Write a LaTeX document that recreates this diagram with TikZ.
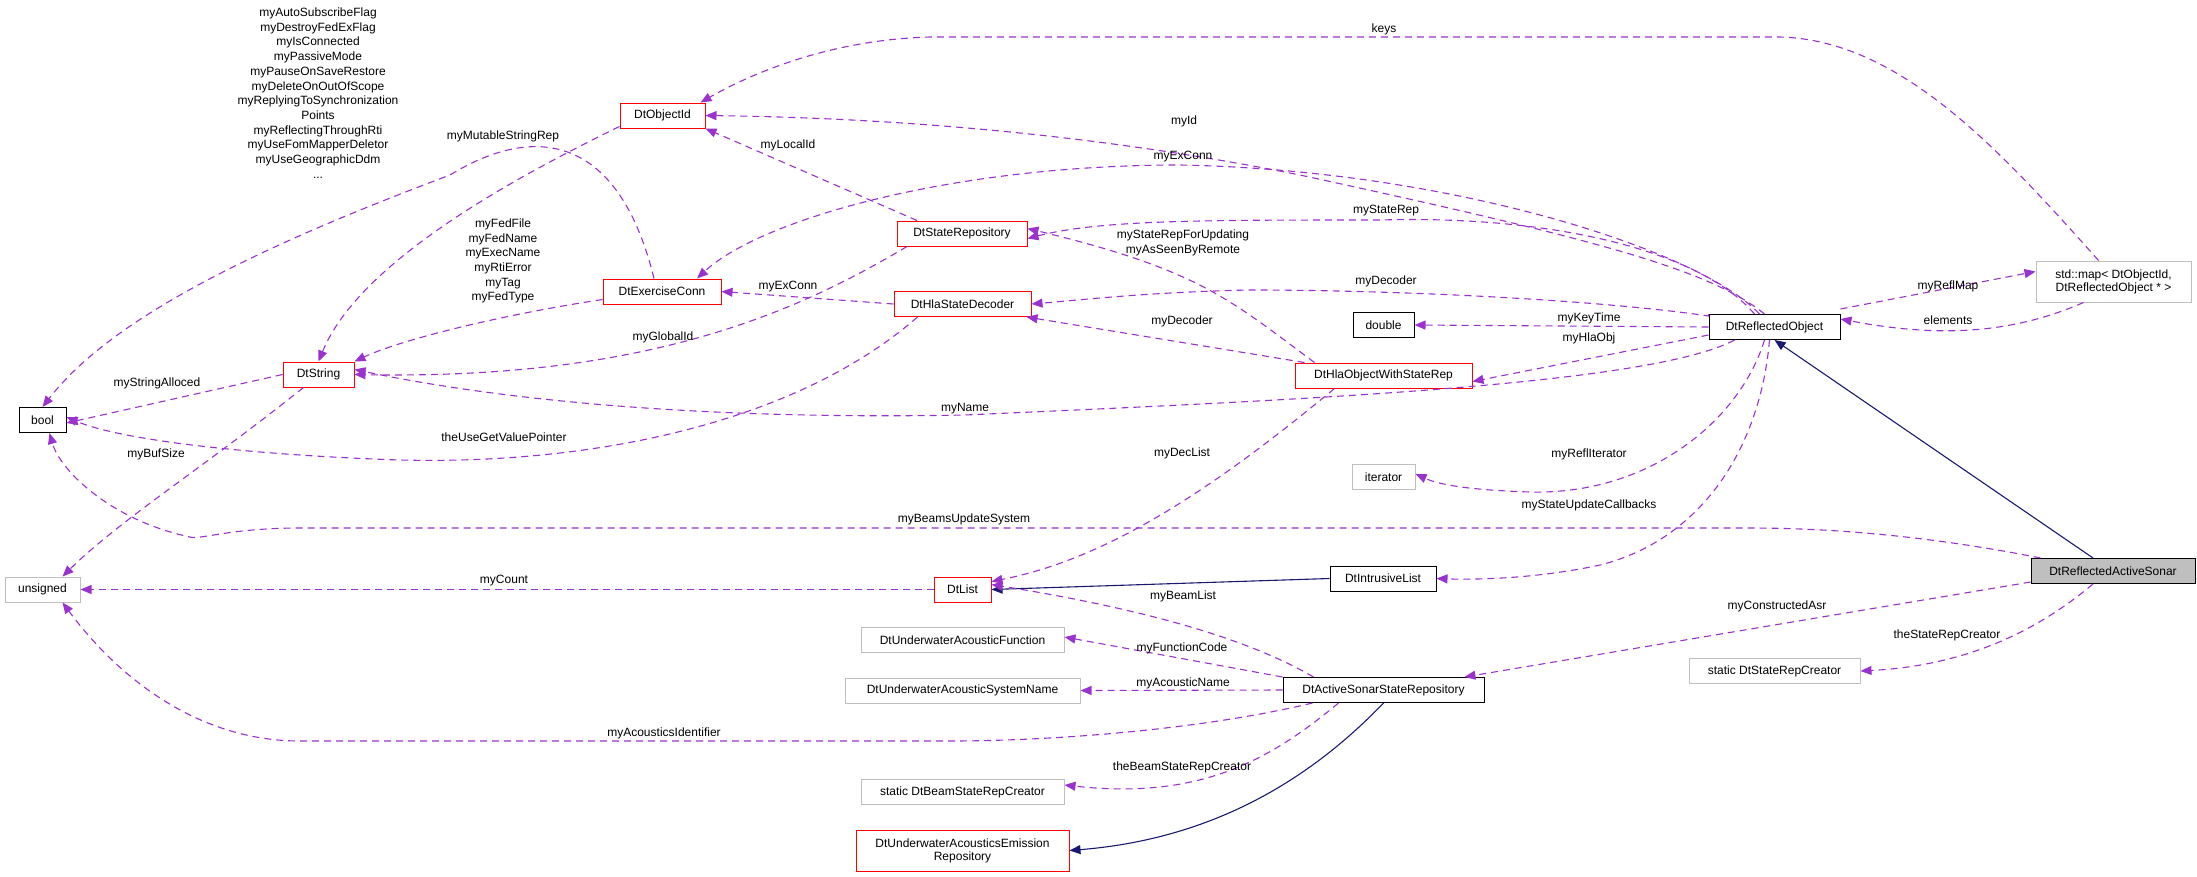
\documentclass[tikz,border=0pt]{standalone}
\usepackage{fontspec}
\setmainfont{Liberation Sans}
\usetikzlibrary{arrows.meta}
\definecolor{use}{HTML}{9A32CD}
\definecolor{inh}{HTML}{191970}
\definecolor{gb}{HTML}{BFBFBF}
\begin{document}
\begin{tikzpicture}[x=1pt,y=-1pt,
 every node/.style={font=\fontsize{12}{14.7}\selectfont},
 box/.style={draw,rectangle,inner sep=0pt,minimum height=25pt,line width=1pt,align=center},
 bk/.style={box,draw=black},
 rd/.style={box,draw=red},
 gr/.style={box,draw=gb},
 u/.style={draw=use,dashed,dash pattern=on 7pt off 5pt,line width=1.1pt,-{Triangle[length=11pt,width=9pt,fill=use]}},
 ih/.style={draw=inh,line width=1.1pt,-{Triangle[length=11pt,width=9pt,fill=inh]}},
 lb/.style={inner sep=0pt,align=center}]
\path[use as bounding box] (0,0) rectangle (2197,876);
\node[bk,minimum width=47pt] (bool) at (42.5,420) {bool};
\node[gr,minimum width=75pt] (uns) at (42.5,589.5) {unsigned};
\node[rd,minimum width=71pt] (str) at (318.5,374.5) {DtString};
\node[rd,minimum width=85pt] (oid) at (662.5,115.5) {DtObjectId};
\node[rd,minimum width=118pt] (exc) at (662,291.5) {DtExerciseConn};
\node[rd,minimum width=130pt] (sr) at (962,233.5) {DtStateRepository};
\node[rd,minimum width=137pt] (hsd) at (962.5,304) {DtHlaStateDecoder};
\node[bk,minimum width=61pt] (dbl) at (1383.5,325) {double};
\node[rd,minimum width=177pt] (hows) at (1383.5,375.5) {DtHlaObjectWithStateRep};
\node[bk,minimum width=131pt] (ro) at (1774.5,327) {DtReflectedObject};
\node[gr,minimum width=155pt,minimum height=41pt,font=\fontsize{12}{13}\selectfont] (map) at (2113.5,281.5) {std::map< DtObjectId,\\DtReflectedObject * >};
\node[gr,minimum width=63pt] (it) at (1383.5,477) {iterator};
\node[rd,minimum width=57pt] (lst) at (962.5,589.5) {DtList};
\node[bk,minimum width=106pt] (il) at (1383,578.5) {DtIntrusiveList};
\node[bk,minimum width=164pt,fill=gb] (son) at (2113,571) {DtReflectedActiveSonar};
\node[gr,minimum width=203pt] (uaf) at (962.5,640) {DtUnderwaterAcousticFunction};
\node[gr,minimum width=235pt] (uasn) at (962.5,690.5) {DtUnderwaterAcousticSystemName};
\node[bk,minimum width=201pt] (assr) at (1383.5,690) {DtActiveSonarStateRepository};
\node[gr,minimum width=203pt] (bsrc) at (962.5,792) {static DtBeamStateRepCreator};
\node[rd,minimum width=213pt,minimum height=41pt,font=\fontsize{12}{13}\selectfont] (uaer) at (962.5,850.5) {DtUnderwaterAcousticsEmission\\Repository};
\node[gr,minimum width=171pt] (srcr) at (1774.5,671) {static DtStateRepCreator};
% inheritance
\draw[ih] (son.north) ++(-20,0) coordinate (s1) (s1) -- (ro.south);
\draw[ih] (il.west) -- (lst.east);
\draw[ih] (assr.south) .. controls (1300,790) and (1200,840) .. (uaer.east);
% usage
\draw[u] (oid.south west) ++(0,-2) coordinate (o1) (o1) .. controls (520,175) and (360,260) .. (str.north);
\draw[u] (exc.north) ++(-8,0) coordinate (e1) (e1) .. controls (620,140) and (540,120) .. (450,175) .. controls (250,250) and (110,320) .. (bool.north);
\draw[u] (exc.west) ++(0,8) coordinate (e2) (e2) .. controls (500,315) and (400,340) .. (str.north east);
\draw[u] (sr.north) ++(-45,0) coordinate (r1) (r1) -- (oid.south east);
\draw[u] (sr.south) ++(-55,0) coordinate (r2) (r2) .. controls (800,310) and (650,380) .. (str.east);
\draw[u] (hsd.west) -- (exc.east);
\draw[u] (hsd.south) ++(-45,0) coordinate (h1) (h1) .. controls (800,420) and (600,465) .. (400,460) .. controls (250,455) and (120,440) .. ([yshift=3pt]bool.east);
\draw[u] (str.west) -- ([yshift=-3pt]bool.east);
\draw[u] (str.south) ++(-15,0) coordinate (t1) (t1) .. controls (200,470) and (120,520) .. ([xshift=20pt]uns.north);
\draw[u] (hows.north west) ++(20,0) coordinate (w1) (w1) .. controls (1230,300) and (1200,270) .. ([yshift=5pt]sr.east);
\draw[u] (hows.north west) ++(10,0) coordinate (w2) (w2) -- ([xshift=-5pt]hsd.south east);
\draw[u] (hows.south west) ++(40,0) coordinate (w3) (w3) .. controls (1200,500) and (1100,560) .. ([yshift=-5pt]lst.north east);
\draw[u] (ro.north) ++(-10,0) coordinate (q1) (q1) .. controls (1710,270) and (1600,240) .. (1300,175) .. controls (1100,135) and (900,118) .. (oid.east);
\draw[u] (ro.north) ++(-15,0) coordinate (q2) (q2) .. controls (1700,250) and (1450,170) .. (1180,165) .. controls (950,165) and (760,220) .. ([xshift=35pt]exc.north);
\draw[u] (ro.north) ++(-20,0) coordinate (q3) (q3) .. controls (1700,250) and (1550,215) .. (1380,220) .. controls (1200,220) and (1100,220) .. ([yshift=-5pt]sr.east);
\draw[u] (ro.north west) -- ++(0,2) .. controls (1600,300) and (1400,290) .. (1250,290) .. controls (1150,292) and (1080,300) .. (hsd.east);
\draw[u] (ro.west) -- (dbl.east);
\draw[u] (ro.west) ++(0,8) coordinate (q4) (q4) -- ([yshift=-6pt]hows.east);
\draw[u] (ro.south) ++(-40,0) coordinate (q5) (q5) .. controls (1650,385) and (1300,400) .. (965,415) .. controls (700,420) and (500,400) .. ([yshift=5pt]str.east);
\draw[u] (ro.south) ++(-10,0) coordinate (q6) (q6) .. controls (1740,420) and (1650,495) .. (1530,492) .. controls (1470,490) and (1440,485) .. ([yshift=3pt]it.east);
\draw[u] (ro.south) ++(-5,0) coordinate (q7) (q7) .. controls (1760,450) and (1700,540) .. (1600,565) .. controls (1540,578) and (1480,580) .. (il.east);
\draw[u] ([yshift=5pt]ro.north east) -- ([yshift=10pt]map.west);
\draw[u] (map.south) ++(-30,0) coordinate (m1) (m1) .. controls (2020,330) and (1950,340) .. ([yshift=8pt]ro.east);
\draw[u] (map.north) ++(-15,0) coordinate (m2) (m2) .. controls (2000,150) and (1900,40) .. (1780,37) -- (930,37) .. controls (820,40) and (740,80) .. ([xshift=-5pt]oid.north east);
\draw[u] (son.north west) ++(10,0) coordinate (n1) (n1) .. controls (1950,540) and (1850,528) .. (1750,528) -- (300,528) .. controls (230,528) and (200,540) .. (190,537) .. controls (110,520) and (60,470) .. ([xshift=7pt]bool.south);
\draw[u] (son.south west) ++(0,-2) coordinate (n2) (n2) -- ([xshift=-20pt]assr.north east);
\draw[u] (son.south) ++(-20,0) coordinate (n3) (n3) .. controls (2050,620) and (1980,665) .. (srcr.east);
\draw[u] (lst.west) -- (uns.east);
\draw[u] (assr.north) ++(-70,0) coordinate (a1) (a1) .. controls (1250,640) and (1150,610) .. ([yshift=5pt]lst.east);
\draw[u] (assr.north west) -- ([yshift=3pt]uaf.east);
\draw[u] (assr.west) -- (uasn.east);
\draw[u] (assr.south west) ++(30,0) coordinate (a2) (a2) .. controls (1200,730) and (1050,741) .. (950,741) -- (300,741) .. controls (200,741) and (120,680) .. ([xshift=20pt]uns.south);
\draw[u] (assr.south) ++(-45,0) coordinate (a3) (a3) .. controls (1270,760) and (1200,800) .. ([yshift=7pt]bsrc.east);
% labels
\node[lb] at (318,93) {myAutoSubscribeFlag\\myDestroyFedExFlag\\myIsConnected\\myPassiveMode\\myPauseOnSaveRestore\\myDeleteOnOutOfScope\\myReplyingToSynchronization\\Points\\myReflectingThroughRti\\myUseFomMapperDeletor\\myUseGeographicDdm\\...};
\node[lb] at (503,136) {myMutableStringRep};
\node[lb] at (503,261) {myFedFile\\myFedName\\myExecName\\myRtiError\\myTag\\myFedType};
\node[lb] at (663,337) {myGlobalId};
\node[lb] at (157,383) {myStringAlloced};
\node[lb] at (504,437) {theUseGetValuePointer};
\node[lb] at (156,454) {myBufSize};
\node[lb] at (504,581) {myCount};
\node[lb] at (664,733) {myAcousticsIdentifier};
\node[lb] at (1384,29) {keys};
\node[lb] at (1184,121) {myId};
\node[lb] at (788,145) {myLocalId};
\node[lb] at (1183,157) {myExConn};
\node[lb] at (1386,211) {myStateRep};
\node[lb] at (1183,243) {myStateRepForUpdating\\myAsSeenByRemote};
\node[lb] at (788,287) {myExConn};
\node[lb] at (1386,281) {myDecoder};
\node[lb] at (1182,321) {myDecoder};
\node[lb] at (965,409) {myName};
\node[lb] at (1182,453) {myDecList};
\node[lb] at (964,519) {myBeamsUpdateSystem};
\node[lb] at (1183,596) {myBeamList};
\node[lb] at (1182,648) {myFunctionCode};
\node[lb] at (1183,683) {myAcousticName};
\node[lb] at (1182,767) {theBeamStateRepCreator};
\node[lb] at (1948,286) {myReflMap};
\node[lb] at (1948,320) {elements};
\node[lb] at (1589,318) {myKeyTime};
\node[lb] at (1589,338) {myHlaObj};
\node[lb] at (1589,454) {myReflIterator};
\node[lb] at (1589,505) {myStateUpdateCallbacks};
\node[lb] at (1777,606) {myConstructedAsr};
\node[lb] at (1947,635) {theStateRepCreator};
\end{tikzpicture}
\end{document}
